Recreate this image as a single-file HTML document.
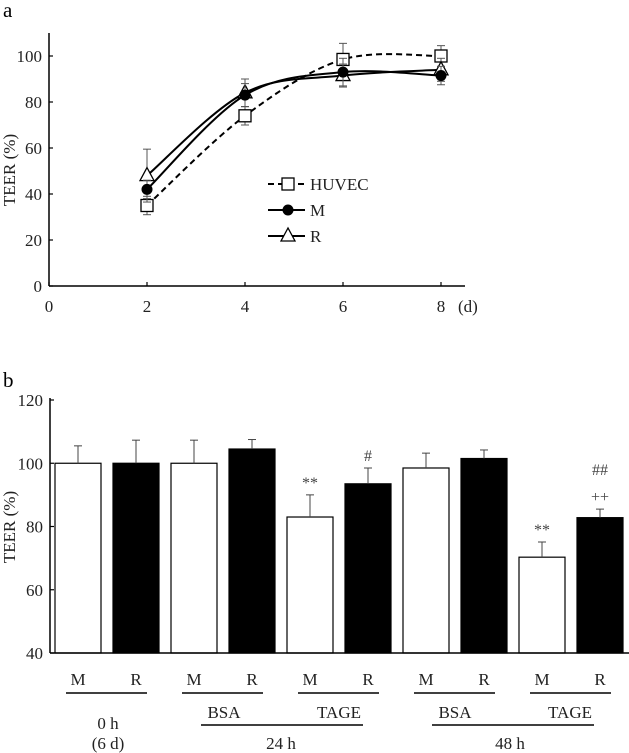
<!DOCTYPE html>
<html><head><meta charset="utf-8"><style>
html,body{margin:0;padding:0;background:#fff;}
svg{display:block;font-family:"Liberation Serif",serif;}
</style></head><body>
<svg id="s" width="629" height="753" viewBox="0 0 629 753"></svg>
<script>
// Panel a data
const aDays = [2, 4, 6, 8];
const aXTicks = [0, 2, 4, 6, 8];
const aYTicks = [0, 20, 40, 60, 80, 100];
const huvecVals = [35, 74, 98.5, 100];
const huvecErr = [4, 4, 7, 4.5];
const mVals = [42, 83, 93, 91.5];
const mErr = [4, 5, 6, 4];
const rVals = [48, 84, 91.5, 94];
const rErr = [11.5, 6, 5, 5];
// Panel b data
const bCats = ["M","R","M","R","M","R","M","R","M","R"];
const bVals = [100, 100, 100, 104.5, 83, 93.5, 98.5, 101.5, 70.3, 82.8];
const bErr = [5.5, 7.3, 7.3, 3, 7, 5, 4.7, 2.7, 4.8, 2.7];
const bAnn = ["", "", "", "", "**", "#", "", "", "**", "##|++"];
const bYTicks = [40, 60, 80, 100, 120];

const NS = "http://www.w3.org/2000/svg";
const svg = document.getElementById('s');
const FS = 17;
function mk(tag, attrs, parent, text){
  const e = document.createElementNS(NS, tag);
  for (const k in attrs) e.setAttribute(k, attrs[k]);
  if (text !== undefined) e.textContent = text;
  (parent || svg).appendChild(e);
  return e;
}

// ---------- Panel a ----------
const ga = mk('g', {});


const ax = d => 49 + d * 49;
const ay = v => 286 - v * 2.3;
let t = mk('text', {x: 3, y: 17, 'font-size': 21}, ga, 'a');
 
let l = mk('line', {x1: 49, y1: 33, x2: 49, y2: 286, stroke: '#000', 'stroke-width': 1.5}, ga);
 
l = mk('line', {x1: 49, y1: 286, x2: 465, y2: 286, stroke: '#000', 'stroke-width': 1.5}, ga);
 
aYTicks.forEach(v => {
  mk('line', {x1: 49, x2: 53, y1: ay(v), y2: ay(v), stroke: '#000', 'stroke-width': 1.2}, ga);
  const tt = mk('text', {x: 42, y: ay(v) + 6, 'font-size': FS, 'text-anchor': 'end', fill: '#222'}, ga, String(v));
   
});
aXTicks.forEach(d => {
  mk('line', {x1: ax(d), x2: ax(d), y1: 286, y2: 282, stroke: '#000', 'stroke-width': 1.2}, ga);
  const tt = mk('text', {x: ax(d), y: 312, 'font-size': FS, 'text-anchor': 'middle', fill: '#222'}, ga, String(d));
   
});
t = mk('text', {x: 458, y: 312, 'font-size': FS, fill: '#222'}, ga, '(d)');
 
t = mk('text', {x: 0, y: 0, 'font-size': FS, 'text-anchor': 'middle', fill: '#222', transform: 'translate(15,170) rotate(-90)'}, ga, 'TEER (%)');
 

function smooth(pts){
  let d = `M${pts[0][0]},${pts[0][1]}`;
  for (let i = 0; i < pts.length - 1; i++){
    const p0 = pts[i-1] || pts[i], p1 = pts[i], p2 = pts[i+1], p3 = pts[i+2] || p2;
    const c1 = [p1[0] + (p2[0]-p0[0])/6, p1[1] + (p2[1]-p0[1])/6];
    const c2 = [p2[0] - (p3[0]-p1[0])/6, p2[1] - (p3[1]-p1[1])/6];
    d += ` C${c1[0]},${c1[1]} ${c2[0]},${c2[1]} ${p2[0]},${p2[1]}`;
  }
  return d;
}
function marker(kind, x, y, g){
  let m;
  if (kind === 'sq') m = mk('rect', {x: x-6, y: y-6, width: 12, height: 12, fill: '#fff', stroke: '#000', 'stroke-width': 1.3}, g);
  else if (kind === 'ci') m = mk('circle', {cx: x, cy: y, r: 5.5, fill: '#000'}, g);
  else m = mk('polygon', {points: `${x},${y-8} ${x-7},${y+5} ${x+7},${y+5}`, fill: '#fff', stroke: '#000', 'stroke-width': 1.3}, g);
  return m;
}
const series = [
  {name: 'huvec', vals: huvecVals, err: huvecErr, kind: 'sq', dash: '6,4'},
  {name: 'r', vals: rVals, err: rErr, kind: 'tr', dash: ''},
  {name: 'm', vals: mVals, err: mErr, kind: 'ci', dash: ''}
];
series.forEach(s => {
  const g = mk('g', {}, ga);
  
  
  s.vals.forEach((v, i) => {
    const x = ax(aDays[i]);
    mk('line', {x1: x, x2: x, y1: ay(v + s.err[i]), y2: ay(v - s.err[i]), stroke: '#555', 'stroke-width': 1}, g);
    mk('line', {x1: x-4, x2: x+4, y1: ay(v + s.err[i]), y2: ay(v + s.err[i]), stroke: '#555', 'stroke-width': 1}, g);
    mk('line', {x1: x-4, x2: x+4, y1: ay(v - s.err[i]), y2: ay(v - s.err[i]), stroke: '#555', 'stroke-width': 1}, g);
  });
  const p = mk('path', {d: smooth(s.vals.map((v, i) => [ax(aDays[i]), ay(v)])), fill: 'none', stroke: '#000', 'stroke-width': 2, 'stroke-dasharray': s.dash}, g);
   
  s.vals.forEach((v, i) => {
    const m = marker(s.kind, ax(aDays[i]), ay(v), g);
     
  });
});
// legend
const lg = mk('g', {}, ga);
 
[['HUVEC','sq','6,4',184],['M','ci','',210],['R','tr','',236]].forEach(e => {
  const g = mk('g', {}, lg);
   
  mk('line', {x1: 268, x2: 305, y1: e[3], y2: e[3], stroke: '#000', 'stroke-width': 2, 'stroke-dasharray': e[2]}, g);
  marker(e[1], 288, e[3], g);
  mk('text', {x: 310, y: e[3] + 6, 'font-size': FS, fill: '#222'}, g, e[0]);
});

// ---------- Panel b ----------
const gb = mk('g', {});


const by = v => 653 - (v - 40) * 63.25 / 20;
const bx = i => 55 + 58 * i;
t = mk('text', {x: 3, y: 387, 'font-size': 21}, gb, 'b');
 
bYTicks.forEach(v => {
  mk('line', {x1: 50, x2: 54, y1: by(v), y2: by(v), stroke: '#000', 'stroke-width': 1.2}, gb);
  const tt = mk('text', {x: 43, y: by(v) + 6, 'font-size': FS, 'text-anchor': 'end', fill: '#222'}, gb, String(v));
   
});
t = mk('text', {x: 0, y: 0, 'font-size': FS, 'text-anchor': 'middle', fill: '#222', transform: 'translate(15,527) rotate(-90)'}, gb, 'TEER (%)');
 
bVals.forEach((v, i) => {
  const x = bx(i), cx = x + 23;
  const r = mk('rect', {x: x, y: by(v), width: 46, height: 653 - by(v), fill: i % 2 ? '#000' : '#fff', stroke: '#000', 'stroke-width': 1.2}, gb);
   
  mk('line', {x1: cx, x2: cx, y1: by(v), y2: by(v + bErr[i]), stroke: '#444', 'stroke-width': 1}, gb);
  mk('line', {x1: cx-4, x2: cx+4, y1: by(v + bErr[i]), y2: by(v + bErr[i]), stroke: '#444', 'stroke-width': 1}, gb);
  const lab = mk('text', {x: cx, y: 685, 'font-size': FS, 'text-anchor': 'middle', fill: '#222'}, gb, bCats[i]);
   
  if (bAnn[i]) {
    bAnn[i].split('|').forEach((a, k, arr) => {
      const yy = by(v + bErr[i]) - 7 - (arr.length - 1 - k) * 27;
      const at = mk('text', {x: cx, y: yy, 'font-size': 16, 'text-anchor': 'middle', fill: '#444'}, gb, a);
       
    });
  }
});
l = mk('line', {x1: 50, y1: 398, x2: 50, y2: 653, stroke: '#000', 'stroke-width': 1.5}, gb);
 
l = mk('line', {x1: 50, y1: 653, x2: 629, y2: 653, stroke: '#000', 'stroke-width': 1.5}, gb);
 
for (let k = 0; k < 5; k++){
  l = mk('line', {x1: 66 + 116*k, x2: 147 + 116*k, y1: 693, y2: 693, stroke: '#000', 'stroke-width': 1.5}, gb);
   
}
[[224,'BSA'],[339,'TAGE'],[455,'BSA'],[570,'TAGE']].forEach(e => {
  const tt = mk('text', {x: e[0], y: 718, 'font-size': FS, 'text-anchor': 'middle', fill: '#222'}, gb, e[1]);
   
});
[[201,363],[432,594]].forEach(e => {
  l = mk('line', {x1: e[0], x2: e[1], y1: 725, y2: 725, stroke: '#000', 'stroke-width': 1.5}, gb);
   
});
[[108,729,'0 h'],[108,749,'(6 d)'],[281,749,'24 h'],[510,749,'48 h']].forEach(e => {
  const tt = mk('text', {x: e[0], y: e[1], 'font-size': FS, 'text-anchor': 'middle', fill: '#222'}, gb, e[2]);
   
});
</script>
</body></html>
